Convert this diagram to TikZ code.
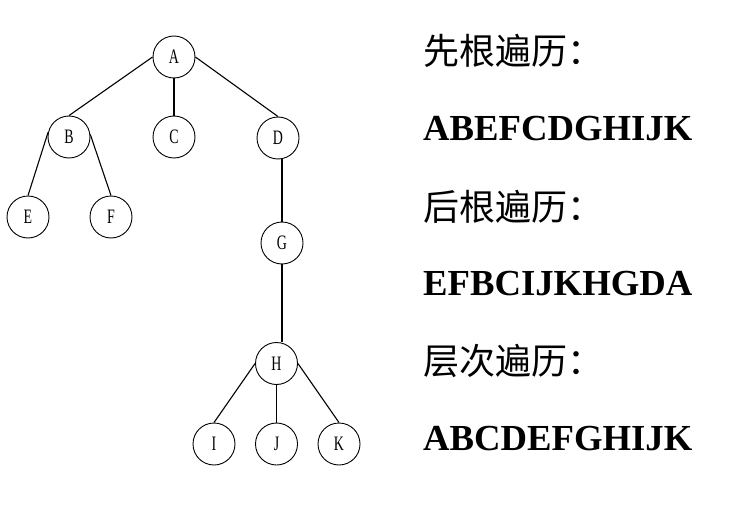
\documentclass[tikz,border=0pt]{standalone}
\usepackage{fontspec}
\setmainfont{Liberation Serif}
\newfontfamily\cjk{Noto Sans CJK SC}
\newfontfamily\nodefont[FakeStretch=0.68]{Liberation Serif}
\begin{document}
\begin{tikzpicture}[x=1pt,y=-1pt,
  tnode/.style={circle,draw,line width=0.9pt,minimum size=42pt,inner sep=0pt,
    font=\nodefont\fontsize{20.5}{22}\selectfont},
  edge/.style={line width=1.1pt},
  cjktext/.style={anchor=base west,inner sep=0pt,font=\cjk\fontsize{36}{40}\selectfont},
  seqtext/.style={anchor=base west,inner sep=0pt,font=\bfseries\fontsize{36.7}{40}\selectfont}]
\useasboundingbox (0,0) rectangle (755,511);
\node[tnode] (A) at (174,57) {A};
\node[tnode] (B) at (69,137) {B};
\node[tnode] (C) at (174,137) {C};
\node[tnode] (D) at (278,138) {D};
\node[tnode] (E) at (28,217) {E};
\node[tnode] (F) at (111,217) {F};
\node[tnode] (G) at (282,243) {G};
\node[tnode] (H) at (276.5,363.5) {H};
\node[tnode] (I) at (214,444) {I};
\node[tnode] (J) at (276.5,444) {J};
\node[tnode] (K) at (339,444) {K};
\draw[edge] (A.west) -- (B.north);
\draw[edge] (A.south) -- (C.north);
\draw[edge] (A.east) -- (D.north);
\draw[edge] (B.167) -- (E.north);
\draw[edge] (B.7) -- (F.north);
\draw[edge] (G.north) -- (G.north |- D.south);
\draw[edge] (G.south) -- (G.south |- H.north);
\draw[edge] (H.west) -- (I.north);
\draw[edge] (H.south) -- (J.north);
\draw[edge] (H.east) -- (K.north);
\node[cjktext] (t1) at (423,64) {先根遍历：};
\node[seqtext] (s1) at (423,140) {ABEFCDGHIJK};
\node[cjktext] (t2) at (423,220) {后根遍历：};
\node[seqtext] (s2) at (423,295) {EFBCIJKHGDA};
\node[cjktext] (t3) at (423,374) {层次遍历：};
\node[seqtext] (s3) at (423,450) {ABCDEFGHIJK};
\end{tikzpicture}
\end{document}
